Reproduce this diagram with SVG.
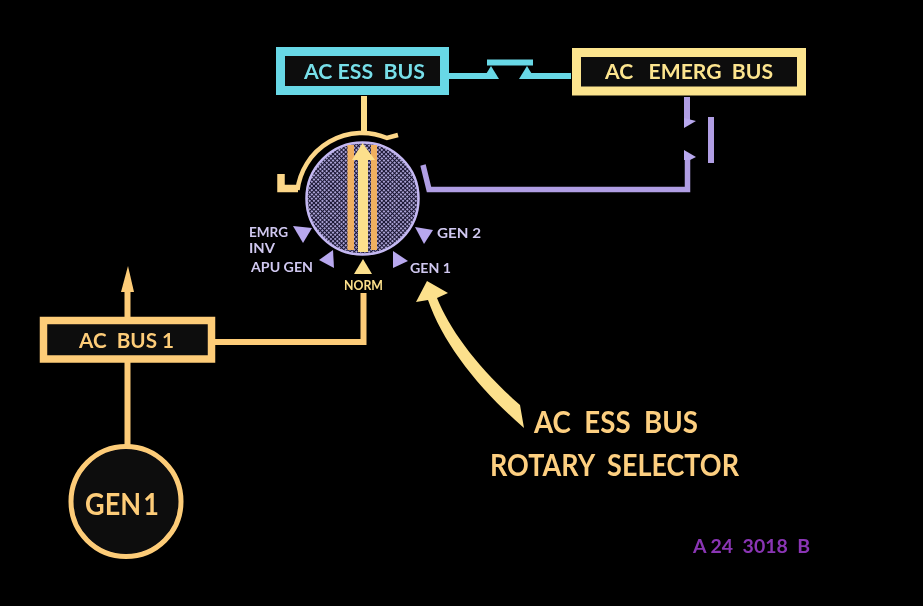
<svg xmlns="http://www.w3.org/2000/svg" width="923" height="606" viewBox="0 0 923 606">
<style>
text{font-family:Lato,"Liberation Sans",Arial,sans-serif;font-weight:700}
.o{fill:none;stroke:#fdcc78;stroke-width:6}
.y{fill:none;stroke:#fcdc88;stroke-width:6}
.c{fill:none;stroke:#68d8e6;stroke-width:6}
.p{fill:none;stroke:#b09ee4;stroke-width:6}
.pf{fill:#b8a8ee}
.cf{fill:#68d8e6}
.box{fill:#08080e}
.lab{fill:#d0c8f0;font-size:14px}
</style>
<defs>
<pattern id="mesh" width="3" height="3" patternUnits="userSpaceOnUse" patternTransform="rotate(45)">
<rect width="3" height="3" fill="#181430"/>
<rect width="2" height="2" fill="#aaa2d4"/>
</pattern>
<filter id="soft" filterUnits="userSpaceOnUse" x="0" y="0" width="923" height="606"><feGaussianBlur stdDeviation="0.45"/></filter>
</defs>
<rect width="923" height="606" fill="#000"/>
<g filter="url(#soft)">
<g id="connectors">
<path class="o" d="M127.500 446V288"/>
<path d="M128 266L121 292H134z" fill="#fdcc78"/>
<path class="o" d="M215 342H363.500V293"/>
<path class="y" d="M364 96V133" fill="none"/>
<path fill="none" stroke="#fcd688" stroke-width="7.500" d="M281 174V188.500H298"/>
<path fill="none" stroke="#fcd688" stroke-width="4.500" d="M297.500 190A65 65 0 0 1 387 138L398 135"/>
<path class="p" stroke-width="5" d="M423 165L429 189.500H687.500V158" style="stroke-width:5.500"/>
<path class="p" d="M687 97V122"/>
<path class="pf" d="M684 118L696 121L684 128z"/>
<path class="pf" d="M684 150L696 157L690 160H684z"/>
<path class="p" d="M711 117V163"/>
<path class="c" d="M449 76H492"/>
<path class="cf" d="M491 66L483 79H499z"/>
<path class="c" d="M487 62.500H533"/>
<path class="cf" d="M527 66L519 79H535z"/>
<path class="c" d="M528 76H571"/>
<path d="M427 281L416 302L428 300C443 343 477 387 524 428L520 405C477 367 450 330 437 298L448 293z" fill="#fce08c"/>
</g>
<g id="ac-ess-bus">
<rect class="box" x="280.500" y="51.500" width="164" height="39" stroke="#68d8e6" stroke-width="9"/>
<text x="304" y="79" font-size="21" fill="#78dfe8" textLength="121" lengthAdjust="spacingAndGlyphs" xml:space="preserve">AC ESS  BUS</text>
</g>
<g id="ac-emerg-bus">
<rect class="box" x="576.500" y="52.500" width="225" height="38.500" stroke="#fce48e" stroke-width="9"/>
<text x="605" y="79" font-size="21" fill="#fce48e" textLength="168" lengthAdjust="spacingAndGlyphs" xml:space="preserve">AC   EMERG  BUS</text>
</g>
<g id="ac-bus-1">
<rect class="box" x="43.500" y="320.500" width="168" height="38.500" stroke="#fdcc78" stroke-width="7.500"/>
<text x="79" y="348" font-size="21" fill="#fdcc78" textLength="95" lengthAdjust="spacingAndGlyphs" xml:space="preserve">AC  BUS 1</text>
</g>
<g id="gen-1">
<circle class="box" cx="126" cy="501.500" r="55" stroke="#fdcc78" stroke-width="5"/>
<text x="85" y="515" font-size="31" fill="#fdcc78" word-spacing="-5" textLength="74" lengthAdjust="spacingAndGlyphs">GEN 1</text>
</g>
<g id="rotary-selector">
<circle cx="362.500" cy="198.500" r="56" fill="url(#mesh)" stroke="#c4b8f2" stroke-width="2.500"/>
<rect x="347.500" y="145" width="6.500" height="105" fill="#f0b060"/>
<rect x="371" y="145" width="6" height="105" fill="#f0b060"/>
<path d="M362.500 143L352 160H358V252H368V160H375z" fill="#fce08c"/>
<path class="pf" d="M293 226L312 228L303 243z"/>
<path class="pf" d="M415 227L433 230L424 244z"/>
<path class="pf" d="M333 250L319 260L334 268z"/>
<path class="pf" d="M393 251L408 261L393 268z"/>
<path d="M363 259L354 274H372z" fill="#fce08c"/>
<text class="lab" x="249" y="237" textLength="39" lengthAdjust="spacingAndGlyphs">EMRG</text>
<text class="lab" x="249" y="253" textLength="26" lengthAdjust="spacingAndGlyphs">INV</text>
<text class="lab" x="251" y="272" textLength="62" lengthAdjust="spacingAndGlyphs">APU GEN</text>
<text class="lab" x="437" y="238" textLength="44" lengthAdjust="spacingAndGlyphs">GEN 2</text>
<text class="lab" x="410" y="273" textLength="41" lengthAdjust="spacingAndGlyphs">GEN 1</text>
<text x="344" y="290" font-size="14" fill="#fce08c" textLength="39" lengthAdjust="spacingAndGlyphs">NORM</text>
</g>
<g id="caption">
<text x="534" y="433" font-size="30" fill="#fdcf80" textLength="164" lengthAdjust="spacingAndGlyphs" xml:space="preserve">AC  ESS  BUS</text>
<text x="490" y="476" font-size="30" fill="#fdcf80" textLength="249" lengthAdjust="spacingAndGlyphs" xml:space="preserve">ROTARY  SELECTOR</text>
<text x="693" y="553" font-size="18" fill="#8a35b4" textLength="117" lengthAdjust="spacingAndGlyphs" xml:space="preserve">A 24  3018  B</text>
</g>
</g>
</svg>
